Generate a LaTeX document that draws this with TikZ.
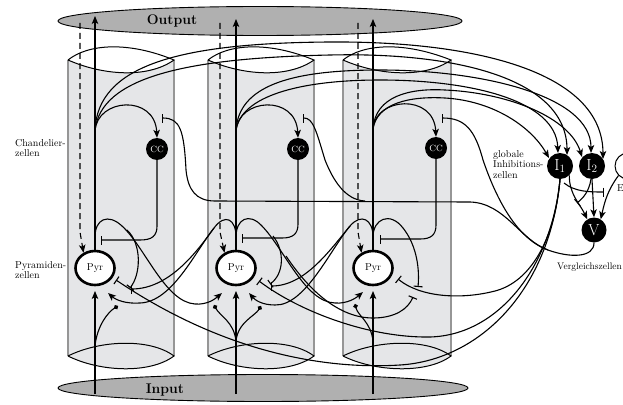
\documentclass[tikz,border=0pt]{standalone}
\usetikzlibrary{arrows.meta,shapes.geometric}
\definecolor{colfill}{RGB}{229,230,232}
\definecolor{coledge}{RGB}{150,150,150}
\definecolor{layerfill}{RGB}{176,176,176}
\tikzset{
  wire/.style={line width=1.1pt},
  arr/.style={wire,-{Stealth[length=8pt,width=6.5pt,inset=2pt]}},
  inh/.style={wire,-{Bar[width=9pt]}},
  mod/.style={wire,-{Circle[length=4.5pt]}},
  fb/.style={wire,dash pattern=on 6pt off 4pt,-{Stealth[length=8pt,width=6.5pt,inset=2pt]}},
  layer/.style={ellipse,draw,line width=0.9pt,fill=layerfill,inner sep=0pt},
  title/.style={font=\bfseries\fontsize{14}{14}\selectfont,inner sep=0pt},
  pyr/.style={ellipse,draw,line width=2.6pt,fill=white,minimum width=39pt,minimum height=34pt,inner sep=0pt,font=\fontsize{10}{10}\selectfont},
  cc/.style={circle,fill=black,minimum size=22pt,inner sep=0pt,text=white,font=\fontsize{9}{9}\selectfont},
  icell/.style={circle,fill=black,minimum size=26pt,inner sep=0pt,text=white,font=\fontsize{16}{16}\selectfont},
  lbl/.style={align=left,anchor=north west,inner sep=0pt,font=\fontsize{10}{10.5}\selectfont},
}
\begin{document}
\begin{tikzpicture}[x=1pt,y=-1pt]
\useasboundingbox (0,0) rectangle (623,404);

% ---- cortical columns (open cylinders) ----
\foreach \xa/\xb in {68/174, 208/314, 343/451} {
  \fill[colfill] (\xa,60) rectangle (\xb,356);
  \fill[colfill] (\xa,356) .. controls (\xa+32,372) and (\xb-24,374) .. (\xb,356) -- cycle;
  \fill[white] (\xa,60) .. controls (\xa+32,75) and (\xb-29,78) .. (\xb,60) -- cycle;
  \draw[coledge,line width=1.2pt] (\xa,60) -- (\xa,356) (\xb,60) -- (\xb,356);
  \draw[line width=1pt] (\xa,60) .. controls (\xa+20,44) and (\xa+60,41) .. (\xb,60)
                        .. controls (\xb-27,79) and (\xa+34,75) .. (\xa,60);
  \draw[line width=1pt] (\xa,356) .. controls (\xa+32,340) and (\xb-24,338) .. (\xb,356)
                        .. controls (\xb-24,374) and (\xa+32,372) .. (\xa,356);
}

% ---- output and input layers ----
\node[layer,minimum width=404pt,minimum height=29pt] (outl) at (260,21) {};
\node[title] (outt) at (172,21) {Output};
\node[layer,minimum width=410pt,minimum height=27pt] (inl) at (263,388) {};
\node[title] (int) at (165,390) {Input};

% ---- cells ----
\node[pyr] (P1) at (95,268) {Pyr};
\node[pyr] (P2) at (236,268) {Pyr};
\node[pyr] (P3) at (373,268) {Pyr};
\node[cc] (C1) at (157,149) {CC};
\node[cc] (C2) at (298,149) {CC};
\node[cc] (C3) at (436,148) {CC};
\node[icell] (I1) at (560,166) {I\textsubscript{1}};
\node[icell] (I2) at (592,166) {I\textsubscript{2}};
\node[circle,draw,line width=1pt,fill=white,minimum size=26pt] (E) at (628,166) {};
\node[icell,minimum size=25pt] (V) at (594,230) {V};

% ---- labels ----
\node[lbl] (lchand) at (15,139) {Chandelier-\\zellen};
\node[lbl] (lpyr) at (15,261) {Pyramiden-\\zellen};
\node[lbl] (lglob) at (493,150) {globale\\Inhibitions-\\zellen};
\node[lbl,font=\fontsize{9.5}{10}\selectfont] (lverg) at (557,263) {Vergleichszellen};
\node[lbl] (lE) at (617,184) {E};

% ---- named points ----
\coordinate (o1) at (95,16);   \coordinate (o2) at (236,19);  \coordinate (o3) at (373,19);
\coordinate (in1) at (95,394); \coordinate (in2) at (236,394); \coordinate (in3) at (373,394);
\coordinate (pb1) at (95,291); \coordinate (pb2) at (236,291); \coordinate (pb3) at (373,291);
\coordinate (f1) at (80,23);   \coordinate (f2) at (220,23);  \coordinate (f3) at (358,23);
\coordinate (ax1) at (95,131); \coordinate (ax2) at (236,131); \coordinate (ax3) at (373,129);
\coordinate (m1) at (95,237);  \coordinate (m2) at (236,237);  \coordinate (m3) at (373,237);
\coordinate (p1r) at (108,293); \coordinate (p2l) at (222,293);
\coordinate (p2r) at (249,293); \coordinate (p3l) at (363,292);
\coordinate (i1a) at (549,158); \coordinate (i1b) at (558,153); \coordinate (i1c) at (567,155);
\coordinate (i2a) at (582,157); \coordinate (i2b) at (591,153); \coordinate (i2c) at (603,159);

% ---- pyramidal axons to output, input to pyramidal cells ----
\draw[arr] (P1.north) -- (o1);
\draw[arr] (P2.north) -- (o2);
\draw[arr] (P3.north) -- (o3);
\draw[arr] (in1) -- (pb1);
\draw[arr] (in2) -- (pb2);
\draw[arr] (in3) -- (pb3);

% ---- feedback from output (dashed) ----
\draw[fb] (f1) -- (80,232) -- (P1.127);
\draw[fb] (f2) -- (220,232) -- (P2.127);
\draw[fb] (f3) -- (358,232) -- (P3.127);

% ---- input side branches ending on lateral fibres ----
\draw[mod] (95,346) .. controls (97,326) and (108,312) .. (118,306);
\draw[mod] (236,341) .. controls (234,322) and (220,316) .. (214,305);
\draw[mod] (236,341) .. controls (238,322) and (255,316) .. (261,306);
\draw[mod] (373,341) .. controls (371,322) and (358,316) .. (355,304);

% ---- axon collaterals to chandelier cells ----
\draw[arr] (ax1) .. controls (97,98) and (155,94) .. (C1.north);
\draw[arr] (ax2) .. controls (238,98) and (296,94) .. (C2.north);
\draw[arr] (ax3) .. controls (375,97) and (434,93) .. (C3.north);

% ---- axon collaterals to global inhibition cells ----
\draw[arr] (ax1) .. controls (97,65) and (180,43) .. (330,42) .. controls (470,41) and (603,70) .. (i2c);
\draw[arr] (ax1) .. controls (100,76) and (190,58) .. (330,55) .. controls (460,52) and (567,80) .. (i1c);
\draw[arr] (ax2) .. controls (238,86) and (290,70) .. (380,70) .. controls (480,70) and (591,95) .. (i2b);
\draw[arr] (ax2) .. controls (240,96) and (300,80) .. (380,80) .. controls (470,80) and (556,100) .. (i1b);
\draw[arr] (ax3) .. controls (375,96) and (410,88) .. (445,90) .. controls (510,93) and (570,118) .. (i2a);
\draw[arr] (ax3) .. controls (377,103) and (410,96) .. (445,98) .. controls (495,101) and (532,128) .. (i1a);

% ---- chandelier cells onto axon initial segments ----
\draw[inh] (C1.south) -- (157,226) .. controls (157,236) and (152,240) .. (140,240) -- (101,240);
\draw[inh] (C2.south) -- (298,224) .. controls (298,234) and (293,238) .. (282,238) -- (242,238);
\draw[inh] (C3.south) -- (436,225) .. controls (436,235) and (431,239) .. (420,239) -- (380,239);

% ---- lateral collaterals between neighbouring columns ----
\draw[arr] (m1) .. controls (95,219) and (108,213) .. (122,226) .. controls (145,247) and (165,302) .. (195,304) .. controls (207,305) and (215,299) .. (p2l);
\draw[inh] (127,230) .. controls (142,244) and (141,274) .. (130,288);
\draw[arr] (m2) .. controls (236,219) and (225,213) .. (214,228) .. controls (195,252) and (172,302) .. (140,303) .. controls (126,304) and (116,300) .. (p1r);
\draw[inh] (214,228) .. controls (198,250) and (170,289) .. (131,289);
\draw[arr] (m2) .. controls (236,219) and (249,212) .. (262,226) .. controls (285,250) and (305,302) .. (335,303) .. controls (347,304) and (356,298) .. (p3l);
\draw[inh] (273,236) .. controls (285,251) and (284,274) .. (270,284);
\draw[inh] (286,256) .. controls (310,292) and (340,318) .. (373,318) .. controls (395,318) and (408,309) .. (413,297);
\draw[arr] (m3) .. controls (373,219) and (361,213) .. (350,226) .. controls (330,250) and (305,306) .. (275,305) .. controls (262,305) and (255,300) .. (p2r);
\draw[inh] (350,226) .. controls (330,250) and (305,286) .. (271,286);
\draw[inh] (m3) .. controls (373,219) and (390,211) .. (403,228) .. controls (415,243) and (420,265) .. (418,287);

% ---- global inhibition onto pyramidal cells ----
\draw[inh] (I1.south) .. controls (555,240) and (530,282) .. (495,291) .. controls (460,300) and (420,297) .. (398,279);
\draw[inh] (I1.south) .. controls (552,265) and (500,335) .. (430,337) .. controls (370,338) and (300,312) .. (259,281);
\draw[inh] (I1.south) .. controls (550,290) and (480,360) .. (400,365) .. controls (320,370) and (220,350) .. (116,280);

% ---- comparison stage ----
\draw[arr] (I1.south east) .. controls (569,194) and (580,204) .. (V.122);
\draw[arr] (I2.south) -- (V.north);
\draw[arr] (E.south west) .. controls (608,190) and (605,200) .. (V.58);
\draw[inh] (564,183) .. controls (575,192) and (590,192) .. (604,192);
\draw[inh] (591,179) .. controls (589,192) and (583,198) .. (577,203);

% ---- comparison cell onto chandelier cells ----
\draw[inh] (V.south) .. controls (594,258) and (570,258) .. (548,250) .. controls (520,240) and (505,203) .. (470,202) -- (215,201) .. controls (196,201) and (188,190) .. (186,170) .. controls (184,130) and (180,118) .. (162,118);
\draw[inh] (365,201) .. controls (345,200) and (333,180) .. (325,160) .. controls (316,130) and (313,118) .. (303,118);
\draw[inh] (548,250) .. controls (515,238) and (495,195) .. (483,160) .. controls (475,130) and (465,118) .. (442,118);

\end{tikzpicture}
\end{document}
